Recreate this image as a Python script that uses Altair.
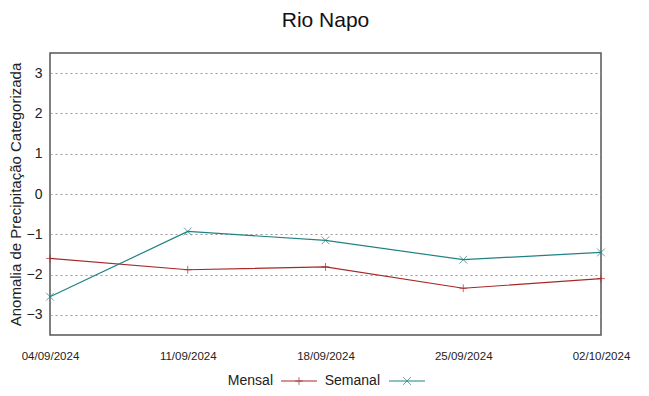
import altair as alt
import pandas as pd

dates = ["04/09/2024", "11/09/2024", "18/09/2024", "25/09/2024", "02/10/2024"]
mensal = [-1.60, -1.88, -1.81, -2.34, -2.10]
semanal = [-2.55, -0.93, -1.15, -1.63, -1.45]
series_names = ["Mensal", "Semanal"]
colors = ["#a82828", "#1f8282"]
plus_path = "M-1,0L1,0M0,-1L0,1"
x_path = "M-1,-1L1,1M-1,1L1,-1"

rows = []
for d, v in zip(dates, mensal):
    rows.append({"date": d, "value": v, "series": "Mensal"})
for d, v in zip(dates, semanal):
    rows.append({"date": d, "value": v, "series": "Semanal"})
df = pd.DataFrame(rows)

FONT = "Liberation Sans"
W, H = 551, 282

x_enc = alt.X("date:O", sort=dates, scale=alt.Scale(type="point", padding=0),
              axis=alt.Axis(title=None, labelAngle=0, labelFontSize=11.5, labelFont=FONT,
                            labelColor="#222", ticks=False, domain=False, grid=False,
                            labelPadding=15))
y_enc = alt.Y("value:Q", scale=alt.Scale(domain=[-3.5, 3.5], nice=False, zero=False),
              axis=alt.Axis(title="Anomalia de Precipitação Categorizada", values=[-3, -2, -1, 0, 1, 2, 3],
                            titleFont=FONT, titleFontSize=15, titleFontWeight="normal", titleColor="#222",
                            titlePadding=3,
                            labelFont=FONT, labelFontSize=14, labelColor="#222", labelPadding=8,
                            ticks=False, domain=False, grid=True, gridDash=[2, 3],
                            gridColor="#999", gridWidth=1))
color_enc = alt.Color("series:N", scale=alt.Scale(domain=series_names, range=colors), legend=None)

base = alt.Chart(df)
lines = base.mark_line(strokeWidth=1.2).encode(x=x_enc, y=y_enc, color=color_enc, detail="series:N")
points = base.mark_point(filled=False, size=60, strokeWidth=1).encode(
    x=x_enc, y=y_enc, color=color_enc,
    shape=alt.Shape("series:N", scale=alt.Scale(domain=series_names, range=[plus_path, x_path]), legend=None))

one = alt.Data(values=[{}])
ly = 328
leg = []
for name, col, shp, tx, lx1, lx2, mx in [("Mensal", colors[0], plus_path, 223, 231, 267, 249),
                                          ("Semanal", colors[1], x_path, 330, 339, 375, 357)]:
    leg.append(alt.Chart(one).mark_text(align="right", baseline="middle", font=FONT, fontSize=14,
                                        color="#222").encode(x=alt.value(tx), y=alt.value(ly), text=alt.value(name)))
    leg.append(alt.Chart(one).mark_rule(color=col, strokeWidth=1.2).encode(
        x=alt.value(lx1), x2=alt.value(lx2), y=alt.value(ly)))
    leg.append(alt.Chart(one).mark_point(color=col, filled=False, size=60, strokeWidth=1).encode(
        x=alt.value(mx), y=alt.value(ly), shape=alt.value(shp)))

chart = alt.layer(lines, points, *leg).properties(
    width=W, height=H,
    background="white",
    title=alt.TitleParams("Rio Napo", font=FONT, fontSize=21, fontWeight="normal", color="#111",
                          anchor="middle", offset=22),
    autosize=alt.AutoSizeParams(type="none"),
    padding={"left": 42, "top": 45, "right": 40, "bottom": 53},
).configure_view(stroke="#555", strokeWidth=1.5)

chart.save("out.html", embed_options={"renderer": "svg", "actions": False})
